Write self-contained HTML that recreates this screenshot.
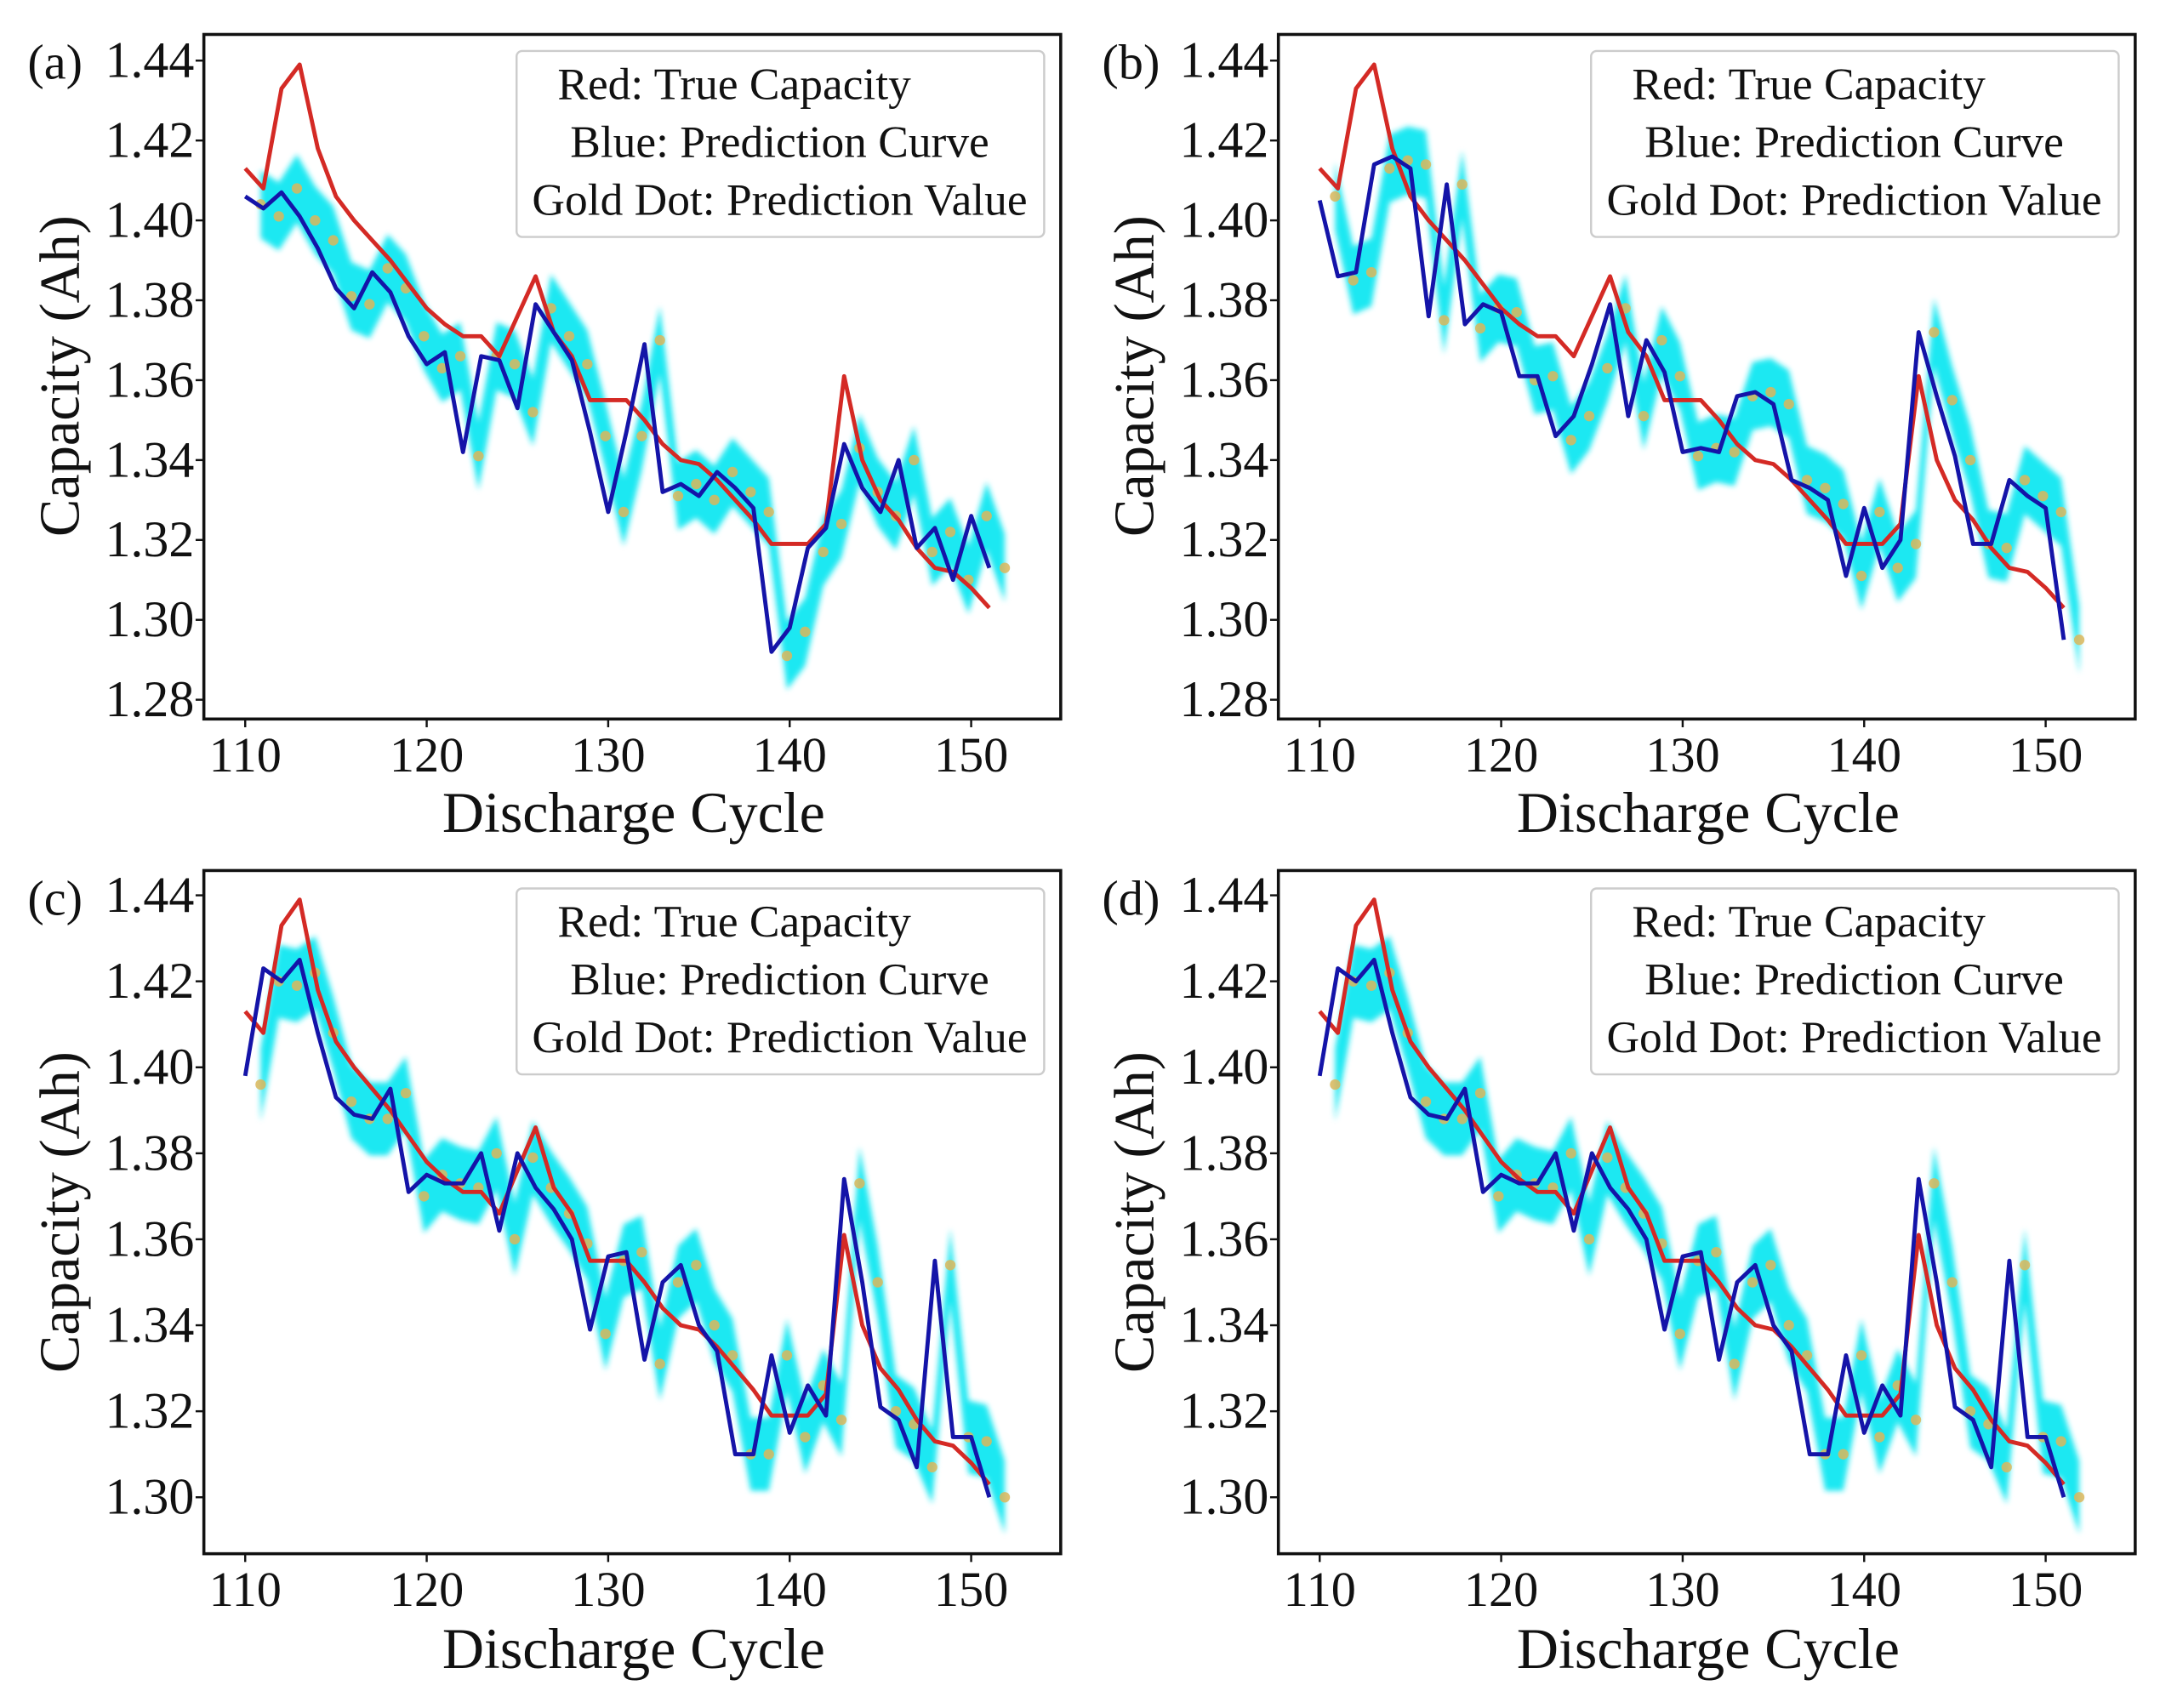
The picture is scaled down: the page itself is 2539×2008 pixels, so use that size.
<!DOCTYPE html>
<html><head><meta charset="utf-8"><style>
html,body{margin:0;padding:0;background:#fff;}
svg{display:block;}
text{font-family:"Liberation Serif",serif;fill:#111;}
</style></head><body>
<svg id="fig" width="2539" height="2008" viewBox="0 0 1568 1240" preserveAspectRatio="none" xmlns="http://www.w3.org/2000/svg">
<defs><filter id="bl" x="-5%" y="-5%" width="110%" height="110%"><feGaussianBlur stdDeviation="2"/></filter></defs>
</svg>
<script>
const cycles = [110,111,112,113,114,115,116,117,118,119,120,121,122,123,124,125,126,127,128,129,130,131,132,133,134,135,136,137,138,139,140,141,142,143,144,145,146,147,148,149,150,151];
const trueCap = [1.413,1.408,1.433,1.439,1.418,1.406,1.400,1.395,1.390,1.384,1.378,1.374,1.371,1.371,1.366,1.376,1.386,1.372,1.366,1.355,1.355,1.355,1.350,1.344,1.340,1.339,1.335,1.330,1.325,1.319,1.319,1.319,1.324,1.361,1.340,1.330,1.325,1.318,1.313,1.312,1.308,1.303];
const predA = [1.406,1.403,1.407,1.401,1.393,1.383,1.378,1.387,1.382,1.371,1.364,1.367,1.342,1.366,1.365,1.353,1.379,1.372,1.365,1.347,1.327,1.347,1.369,1.332,1.334,1.331,1.337,1.333,1.328,1.292,1.298,1.318,1.323,1.344,1.333,1.327,1.340,1.318,1.323,1.310,1.326,1.313];
const goldA = [1.404,1.401,1.408,1.400,1.395,1.381,1.379,1.388,1.383,1.371,1.363,1.366,1.341,1.366,1.364,1.352,1.378,1.371,1.364,1.346,1.327,1.346,1.370,1.331,1.334,1.330,1.337,1.332,1.327,1.291,1.297,1.317,1.324,1.343,1.332,1.326,1.340,1.317,1.322,1.310,1.326,1.313];
const predB = [1.405,1.386,1.387,1.414,1.416,1.413,1.376,1.409,1.374,1.379,1.377,1.361,1.361,1.346,1.351,1.364,1.379,1.351,1.370,1.362,1.342,1.343,1.342,1.356,1.357,1.354,1.335,1.333,1.330,1.311,1.328,1.313,1.320,1.372,1.356,1.341,1.319,1.319,1.335,1.331,1.328,1.295];
const goldB = [1.406,1.385,1.387,1.413,1.415,1.414,1.375,1.409,1.373,1.378,1.377,1.360,1.361,1.345,1.351,1.363,1.378,1.351,1.370,1.361,1.341,1.343,1.342,1.356,1.357,1.354,1.335,1.333,1.329,1.311,1.327,1.313,1.319,1.372,1.355,1.340,1.319,1.318,1.335,1.331,1.327,1.295];
const predC = [1.398,1.423,1.420,1.425,1.408,1.393,1.389,1.388,1.395,1.371,1.375,1.373,1.373,1.380,1.362,1.380,1.372,1.367,1.360,1.339,1.356,1.357,1.332,1.350,1.354,1.340,1.334,1.310,1.310,1.333,1.315,1.326,1.319,1.374,1.350,1.321,1.318,1.307,1.355,1.314,1.314,1.300];
const goldC = [1.396,1.420,1.419,1.422,1.408,1.392,1.388,1.388,1.394,1.370,1.375,1.373,1.372,1.380,1.360,1.379,1.372,1.366,1.359,1.338,1.355,1.357,1.331,1.350,1.354,1.340,1.333,1.310,1.310,1.333,1.314,1.326,1.318,1.373,1.350,1.320,1.317,1.307,1.354,1.314,1.313,1.300];
const xTicks = [110,120,130,140,150];
const yTicksTop = [1.28,1.30,1.32,1.34,1.36,1.38,1.40,1.42,1.44];
const yTicksBot = [1.30,1.32,1.34,1.36,1.38,1.40,1.42,1.44];
const legendLines = ["Red: True Capacity","Blue: Prediction Curve","Gold Dot: Prediction Value"];

const svg = document.getElementById('fig');
const NS = 'http://www.w3.org/2000/svg';
function mk(tag, attrs, parent){const e=document.createElementNS(NS,tag);for(const k in attrs)e.setAttribute(k,attrs[k]);(parent||svg).appendChild(e);return e;}

function panel(label, ox, oy, frameBottom, yTop, yBot, y0val, y1val, yTicks, pred, gold, legY){
  const g = mk('g',{});
  
  
  const fx0=148+ox, fx1=770+ox, fy0=25+oy, fy1=frameBottom+oy;
  const xs = c => 178+ox + (c-110)*(705-178)/40;
  const ys = v => yTop+oy + (y0val - v)*(yBot-yTop)/(y0val-y1val);
  const up=[],dn=[];
  for(let i=0;i<gold.length;i++){const x=xs(cycles[i]+0.85);up.push(x+','+ys(gold[i]+0.0085));dn.unshift(x+','+ys(gold[i]-0.0085));}
  const band=mk('polygon',{points:up.concat(dn).join(' '),fill:'#1ee8f2',filter:'url(#bl)'},g);
  
  
  for(let i=0;i<gold.length;i++){
    const d=mk('circle',{cx:xs(cycles[i]+0.85),cy:ys(gold[i]),r:3.8,fill:'#dcb65a','fill-opacity':0.85},g);
    
    
  }
  const rp=mk('polyline',{points:cycles.map((c,i)=>xs(c)+','+ys(trueCap[i])).join(' '),fill:'none',stroke:'#d42a25','stroke-width':3,'stroke-linejoin':'round'},g);
  
  
  const bp=mk('polyline',{points:cycles.map((c,i)=>xs(c)+','+ys(pred[i])).join(' '),fill:'none',stroke:'#1414a8','stroke-width':3,'stroke-linejoin':'round'},g);
  
  
  const fr=mk('rect',{x:fx0,y:fy0,width:fx1-fx0,height:fy1-fy0,fill:'none',stroke:'#111','stroke-width':2.2},g);
  
  
  xTicks.forEach(t=>{
    const x=xs(t);
    mk('line',{x1:x,x2:x,y1:fy1,y2:fy1+6,stroke:'#111','stroke-width':1.5},g);
    const tx=mk('text',{x:x,y:fy1+38,'font-size':36,'text-anchor':'middle'},g);
    tx.textContent=t;
    
    
  });
  yTicks.forEach(t=>{
    const y=ys(t);
    mk('line',{x1:fx0-6,x2:fx0,y1:y,y2:y,stroke:'#111','stroke-width':1.5},g);
    const tx=mk('text',{x:fx0-7,y:y+12,'font-size':37,'text-anchor':'end'},g);
    tx.textContent=t.toFixed(2);
    
    
  });
  const xt=mk('text',{x:460+ox,y:oy+604,'font-size':42,'text-anchor':'middle'},g);
  xt.textContent='Discharge Cycle';
  
  
  const yt=mk('text',{x:0,y:0,'font-size':41,'text-anchor':'middle',transform:'translate('+(57+ox)+','+(273+oy)+') rotate(-90)'},g);
  yt.textContent='Capacity (Ah)';
  
  
  const pl=mk('text',{x:20+ox,y:57+oy,'font-size':36},g);
  pl.textContent='('+label+')';
  
  
  const lg=mk('g',{},g);
  
  
  mk('rect',{x:375+ox,y:legY+oy,width:383,height:135,rx:4,fill:'#fff','fill-opacity':0.9,stroke:'#ccc','stroke-width':1.5},lg);
  const lx=[533,566,566];
  legendLines.forEach((s,i)=>{
    const t=mk('text',{x:lx[i]+ox,y:legY+oy+35+i*42,'font-size':33,'text-anchor':'middle'},lg);
    t.textContent=s;
    
    
  });
}
panel('a',0,0,522,44,508,1.44,1.28,yTicksTop,predA,goldA,37);
panel('b',780,0,522,44,508,1.44,1.28,yTicksTop,predB,goldB,37);
panel('c',0,607,521,43,480,1.44,1.30,yTicksBot,predC,goldC,38);
panel('d',780,607,521,43,480,1.44,1.30,yTicksBot,predC,goldC,38);
</script>
</body></html>
